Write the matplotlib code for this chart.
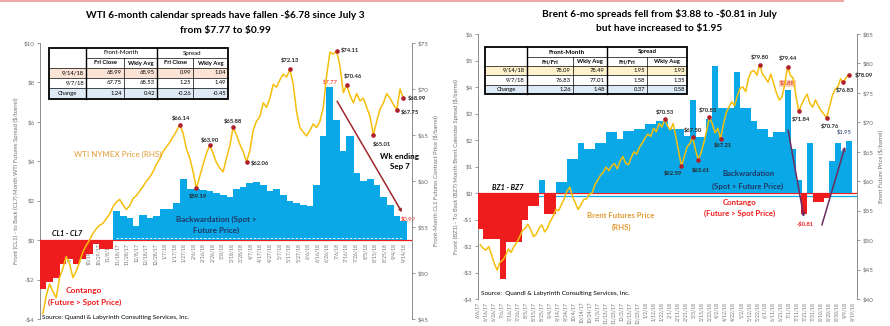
import matplotlib
matplotlib.use("Agg")
import matplotlib.pyplot as plt
from matplotlib.patches import Rectangle
import pandas as pd

plt.rcParams['font.family'] = ['Lato', 'DejaVu Sans']

GOLD = '#F5BE0B'
BLUE = '#0AA8E6'
RED = '#EE1C1C'
NAVY = '#1F3864'
ORANGE = '#E39B35'
GREY = '#6E6E6E'
DARK = '#262626'
DOT = '#B0202A'

# WTI CL1-CL7 spread, weekly (Fridays)
wti_weeks = pd.date_range('2017-09-01', '2018-09-14', freq='7D')
wti_spread = [-2.5, -2.1, -1.9, -1.2, -0.95, -1.2, -0.95, -0.7, -0.2, -0.45,
              -0.45, 1.5, 1.2, 1.1, 0.7, 1.3, 1.1, 1.2, 1.6, 1.6,
              1.9, 3.1, 2.6, 2.6, 2.55, 2.5, 2.4, 2.3, 2.2, 2.6,
              2.7, 2.9, 2.95, 2.8, 2.5, 2.6, 2.3, 2.0, 1.9, 1.8,
              1.75, 2.8, 5.3, 7.77, 6.1, 4.5, 5.3, 3.4, 3.0, 3.1,
              2.8, 2.2, 1.8, 1.25, 0.99]

# WTI front-month price, twice a week
wti_days = pd.date_range('2017-09-01', '2018-09-14', periods=109)
wti_price = [45.6, 47.5, 48.8, 48.0, 47.3, 49.5, 50.5, 51.8, 51.0, 49.5,
             50.2, 51.2, 52.3, 53.0, 53.6, 54.3, 54.8, 55.2, 55.4, 55.9,
             56.4, 57.2, 57.7, 58.0, 57.4, 56.9, 57.3, 58.1, 58.4, 58.9,
             59.4, 60.0, 60.4, 61.0, 61.8, 62.4, 63.2, 63.7, 64.2, 64.8,
             65.4, 66.14, 65.2, 63.5, 62.5, 61.0, 59.19, 60.5, 61.8, 63.0,
             63.90, 63.0, 62.0, 61.4, 61.0, 62.5, 63.8, 65.88, 65.0, 64.0,
             63.2, 62.06, 63.3, 65.5, 66.5, 67.0, 68.5, 68.0, 69.0, 70.5,
             70.2, 71.0, 71.6, 71.3, 72.13, 70.5, 67.5, 65.8, 65.3, 64.9,
             65.5, 66.2, 65.8, 66.5, 68.0, 71.5, 74.0, 73.8, 74.11, 72.5,
             69.6, 70.46, 69.3, 68.5, 69.5, 68.7, 69.0, 68.0, 67.0, 65.01,
             66.5, 67.8, 68.5, 69.5, 69.0, 68.3, 67.75, 70.0, 68.99]
wti_marked = [41, 46, 50, 57, 61, 74, 88, 91, 99, 106, 108]

# Brent BZ1-BZ7 spread, weekly
brent_weeks = pd.date_range('2017-06-09', '2018-09-14', freq='7D')
brent_spread = [-1.36, -1.74, -1.74, -1.74, -3.25, -1.85, -1.85, -1.85, -1.0, -0.5,
                -0.5, 0.5, -0.8, -0.8, 0.4, 0.4, 1.3, 1.3, 1.9, 1.65,
                1.65, 1.9, 1.9, 2.3, 2.3, 2.05, 2.35, 2.35, 2.4, 2.4,
                2.6, 2.6, 2.7, 2.7, 2.4, 2.4, 2.4, 2.15, 3.5, 2.1,
                2.1, 2.8, 4.8, 3.2, 3.2, 3.2, 4.55, 3.2, 3.2, 2.7,
                2.4, 2.4, 2.1, 2.3, 2.3, 3.88, 1.65, 0.5, -0.81, 1.9,
                -0.35, -0.35, -0.2, 1.2, 1.9, 1.58, 1.95]

# Brent front-month price, twice a week
brent_days = pd.date_range('2017-06-09', '2018-09-14', periods=133)
brent_price = [49.2, 48.6, 48.3, 48.9, 47.5, 46.0, 44.9, 46.2, 46.6, 47.3,
               48.5, 47.9, 48.9, 49.6, 50.5, 51.6, 52.0, 52.7, 51.8, 50.6,
               51.0, 52.0, 52.6, 51.4, 52.0, 53.2, 54.0, 55.2, 55.0, 56.0,
               57.0, 58.3, 59.0, 57.4, 56.3, 55.2, 56.0, 56.9, 57.0, 57.8,
               58.0, 59.4, 60.2, 61.0, 61.5, 62.4, 61.8, 62.6, 63.0, 62.1,
               63.4, 64.2, 63.1, 62.8, 64.0, 65.0, 64.6, 65.8, 66.5, 67.4,
               68.0, 67.6, 69.0, 68.4, 69.8, 69.2, 70.53, 69.4, 68.7, 69.8,
               67.5, 65.0, 62.59, 64.2, 65.8, 66.4, 67.50, 65.4, 63.61, 64.8,
               66.5, 68.6, 70.85, 69.8, 68.2, 69.0, 67.21, 69.6, 71.6, 72.6,
               73.5, 72.8, 74.5, 75.8, 76.0, 75.2, 77.5, 78.6, 78.8, 78.0,
               79.80, 78.2, 77.6, 76.8, 78.2, 76.6, 75.0, 73.8, 74.3, 76.5,
               79.44, 78.0, 77.5, 74.5, 71.84, 73.0, 74.0, 74.8, 73.2, 72.6,
               73.8, 72.8, 72.0, 71.4, 70.76, 72.6, 74.5, 75.6, 76.0, 77.4,
               76.83, 77.6, 78.09]
brent_marked = [66, 72, 76, 78, 82, 86, 100, 110, 114, 124, 130, 132]

# summary tables
wti_head = ['Fri Close', 'Wkly Avg', 'Fri Close', 'Wkly Avg']
brent_head = ['Fri/Fri', 'Wkly Aug', 'Fri/Fri', 'Wkly Aug']
table_rows = ['9/14/18', '9/7/18', 'Change']
wti_table = [[68.99, 68.95, 0.99, 1.04],
             [67.75, 68.53, 1.25, 1.49],
             [1.24, 0.42, -0.26, -0.45]]
brent_table = [[78.09, 78.49, 1.95, 1.93],
               [76.83, 77.01, 1.58, 1.35],
               [1.26, 1.48, 0.37, 0.58]]


def dollars(v):
    return ('-' if v < 0 else '') + '\\$' + f'{abs(v):g}'


def price_label(v):
    return ('-' if v < 0 else '') + '\\$' + f'{abs(v):.2f}'


def date_label(d):
    return f'{d.month}/{d.day}/{d:%y}'


fig = plt.figure(figsize=(8.9, 3.26), dpi=100)


def make_panel(rect, xlim, ylim, ylim2, step, step2, ylabel, ylabel2):
    ax = fig.add_axes(rect)
    ax2 = ax.twinx()
    ax.set_xlim(*xlim)
    ax.set_ylim(*ylim)
    ax2.set_ylim(*ylim2)
    yt = range(ylim[0], ylim[1] + 1, step)
    ax.set_yticks(list(yt))
    ax.set_yticklabels([dollars(v) for v in yt])
    yt2 = range(ylim2[0], ylim2[1] + 1, step2)
    ax2.set_yticks(list(yt2))
    ax2.set_yticklabels([dollars(v) for v in yt2])
    for a in (ax, ax2):
        for s in ('top', 'bottom', 'left', 'right'):
            a.spines[s].set_visible(False)
        a.tick_params(axis='y', length=2, width=0.6, color='#8C8C8C',
                      labelsize=4.5, labelcolor=GREY, pad=2)
    ax.spines['left'].set_visible(True)
    ax.spines['left'].set_color('#8C8C8C')
    ax.spines['left'].set_linewidth(0.7)
    ax2.spines['right'].set_visible(True)
    ax2.spines['right'].set_color('#8C8C8C')
    ax2.spines['right'].set_linewidth(0.7)
    ax.set_ylabel(ylabel, fontsize=4.2, color=GREY, labelpad=3)
    ax2.set_ylabel(ylabel2, fontsize=4.2, color=GREY, labelpad=3)
    return ax, ax2


def date_ticks(ax, ticks):
    ax.set_xticks(ticks)
    ax.set_xticklabels([date_label(d) for d in ticks])
    ax.tick_params(axis='x', length=0, pad=2, labelsize=3.5, labelcolor=GREY,
                   labelrotation=90)


def draw_prices(ax2, days, price, marked, offsets):
    ax2.plot(days, price, color=GOLD, lw=1.1, zorder=4)
    for i, (dx, dy) in zip(marked, offsets):
        ax2.plot(days[i], price[i], 'o', ms=2.3, color=DOT, zorder=5)
        ax2.annotate(price_label(price[i]), (days[i], price[i]), xytext=(dx, dy),
                     textcoords='offset points', ha='center', va='center',
                     fontsize=4.2, color=DARK, fontweight='bold', zorder=6)


# ---------------- WTI ----------------
ax, ax2 = make_panel([40 / 890, 7 / 326, 372 / 890, 276 / 326],
                     (pd.Timestamp('2017-08-29'), pd.Timestamp('2018-09-23')),
                     (-4, 10), (45, 75), 2, 5,
                     'Front (CL1) - to Back (CL7) Month WTI Futures Spread ($/barrel)',
                     'Front-Month CL1 Futures Contract Price ($/barrel)')
# date labels hang from the zero line
ax.spines['bottom'].set_position(('data', 0))
ax.spines['bottom'].set_visible(False)
date_ticks(ax, pd.date_range(end='2018-09-14', periods=38, freq='10D'))

ax.axhline(0, color=RED, lw=0.9, zorder=2)
ax.bar(wti_weeks, wti_spread, width=7.4, linewidth=0, zorder=3,
       color=[RED if v < 0 else BLUE for v in wti_spread])
blue_from = next(i for i, v in enumerate(wti_spread) if v > 0)
ax.plot(wti_weeks[blue_from:], [0.12] * len(wti_weeks[blue_from:]),
        color='white', lw=0.6, ls=(0, (3, 2)), zorder=3.1)

peak = wti_spread.index(max(wti_spread))
ax.annotate('', xy=(wti_weeks[-1], wti_spread[-1] + 0.3),
            xytext=(wti_weeks[peak] + pd.Timedelta(days=6), wti_spread[peak] - 0.6),
            arrowprops=dict(arrowstyle='-|>', color='#A0282A', lw=1.1,
                            mutation_scale=4), zorder=6)
ax.annotate(price_label(wti_spread[peak]), (wti_weeks[peak], wti_spread[peak]),
            xytext=(0, 3.6), textcoords='offset points', ha='center', va='center',
            fontsize=4.2, color=RED, zorder=6)
ax.annotate(price_label(wti_spread[-1]), (wti_weeks[-1], wti_spread[-1]),
            xytext=(3.6, 1.4), textcoords='offset points', ha='center', va='center',
            fontsize=4.2, color=RED, zorder=6)

draw_prices(ax2, wti_days, wti_price, wti_marked,
            [(0.7, 4.3), (1.4, -5.8), (0, 3.6), (0, 4.3), (10, -0.7), (0, 6.5),
             (9.4, 0.7), (4.3, 5.8), (5.8, -6.5), (9.4, -2.2), (10, 0)])

# ---------------- Brent ----------------
bx, bx2 = make_panel([478 / 890, 27 / 326, 379 / 890, 265 / 326],
                     (pd.Timestamp('2017-06-06'), pd.Timestamp('2018-09-24')),
                     (-4, 6), (40, 85), 1, 5,
                     'Front (BZ1) - To Back (BZ7) Month Brent Calendar Spread ($/barrel)',
                     'Brent Future Price ($/barrel)')
date_ticks(bx, pd.date_range('2017-06-06', '2018-09-24', freq='10D'))
bx.axhline(-0.1, color=BLUE, lw=0.9, zorder=1.5)
bx.axhline(0, color=RED, lw=0.9, zorder=2)
bx.bar(brent_weeks, brent_spread, width=7.4, linewidth=0, zorder=3,
       color=[RED if v < 0 else BLUE for v in brent_spread])

hi = brent_spread.index(3.88)
lo = brent_spread.index(min(brent_spread[hi:]))
arrow = dict(arrowstyle='-|>', color='#6B2C5F', lw=1.1, mutation_scale=4)
bx.annotate('', xy=(brent_weeks[lo], brent_spread[lo] - 0.2),
            xytext=(brent_weeks[hi], brent_spread[hi] - 1.4), arrowprops=arrow, zorder=6)
bx.annotate('', xy=(brent_weeks[-1] - pd.Timedelta(days=4), brent_spread[-1] - 0.1),
            xytext=(brent_weeks[lo + 3], brent_spread[lo] - 0.5), arrowprops=arrow, zorder=6)
bx.annotate(price_label(brent_spread[hi]), (brent_weeks[hi], brent_spread[hi]),
            xytext=(0, 5), textcoords='offset points', ha='center', va='center',
            fontsize=4.2, color=RED, zorder=6,
            bbox=dict(boxstyle='square,pad=0.15', fc='#F9D3B8', ec='none'))
bx.annotate(price_label(brent_spread[lo]), (brent_weeks[lo], brent_spread[lo]),
            xytext=(0.7, -7), textcoords='offset points', ha='center', va='center',
            fontsize=4.2, color=RED, fontweight='bold', zorder=6)
bx.annotate(price_label(brent_spread[-1]), (brent_weeks[-1], brent_spread[-1]),
            xytext=(-3.6, 7), textcoords='offset points', ha='center', va='center',
            fontsize=4.2, color=NAVY, zorder=6)

draw_prices(bx2, brent_days, brent_price, brent_marked,
            [(0, 5), (-5.8, -5), (0, 5), (2.2, -7.2), (-1.4, 5), (1.4, -5),
             (0, 5), (0, 5.8), (1.4, -5.8), (2.2, -5.8), (1.4, -5.8), (10.8, -0.7)])

# ---------------- text and tables (pixel coordinates) ----------------
ov = fig.add_axes([0, 0, 1, 1])
ov.set_xlim(0, 890)
ov.set_ylim(326, 0)
ov.axis('off')
ov.patch.set_visible(False)

ov.plot([0, 843], [0.8, 0.8], color='#F2A5A5', lw=1.4)

title_kw = dict(ha='center', va='center', fontsize=7.3, fontweight='bold', color='black')
ov.text(225, 15, 'WTI 6-month calendar spreads have fallen -\\$6.78 since July 3', **title_kw)
ov.text(225, 30, 'from \\$7.77 to \\$0.99', **title_kw)
ov.text(659, 14, 'Brent 6-mo spreads fell from \\$3.88 to -\\$0.81 in July', **title_kw)
ov.text(659, 28, 'but have increased to \\$1.95', **title_kw)

ov.text(118, 154, 'WTI NYMEX Price (RHS)', ha='center', va='center', fontsize=5.8, color=ORANGE)
ov.text(216, 219, 'Backwardation (Spot >', ha='center', va='center', fontsize=5.8,
        fontweight='bold', color=NAVY)
ov.text(216, 230, 'Future Price)', ha='center', va='center', fontsize=5.8,
        fontweight='bold', color=NAVY)
ov.text(67, 234, 'CL1 - CL7', ha='center', va='center', fontsize=5.2,
        fontweight='bold', style='italic', color='black')
ov.text(84, 291, 'Contango', ha='center', va='center', fontsize=6, fontweight='bold', color=RED)
ov.text(85, 302, '(Future > Spot Price)', ha='center', va='center', fontsize=5.8,
        fontweight='bold', color=RED)
ov.text(400, 157, 'Wk ending', ha='center', va='center', fontsize=5.8, fontweight='bold')
ov.text(400, 166, 'Sep 7', ha='center', va='center', fontsize=5.8, fontweight='bold')
ov.text(42, 317, 'Source: Quandl & Labyrinth Consulting Services, Inc.',
        ha='left', va='center', fontsize=4.6)

ov.text(748, 174, 'Backwardation', ha='center', va='center', fontsize=5.6,
        fontweight='bold', color=NAVY)
ov.text(748, 186, '(Spot > Future Price)', ha='center', va='center', fontsize=5.6,
        fontweight='bold', color=NAVY)
ov.text(740, 202, 'Contango', ha='center', va='center', fontsize=5.6,
        fontweight='bold', color=RED)
ov.text(740, 213, '(Future > Spot Price)', ha='center', va='center', fontsize=5.6,
        fontweight='bold', color=RED)
ov.text(621, 216, 'Brent Futures Price', ha='center', va='center', fontsize=5.6,
        fontweight='bold', color=ORANGE)
ov.text(621, 227, '(RHS)', ha='center', va='center', fontsize=5.6,
        fontweight='bold', color=ORANGE)
ov.text(508, 187, 'BZ1 - BZ7', ha='center', va='center', fontsize=5.2,
        fontweight='bold', style='italic', color='black')
ov.text(481, 294, 'Source:  Quandl & Labyrinth Consulting Services, Inc.',
        ha='left', va='center', fontsize=4.6)


def draw_table(xs, ys, head, values, fills, top_bold):
    x0, x1, y0, y1 = xs[0], xs[-1], ys[0], ys[-1]
    ov.add_patch(Rectangle((x0, y0), x1 - x0, y1 - y0, fc='white', ec='none', zorder=5))
    for r, fill in enumerate(fills):
        if fill:
            ov.add_patch(Rectangle((x0, ys[r + 2]), x1 - x0, ys[r + 3] - ys[r + 2],
                                   fc=fill, ec='none', zorder=5))
    for i in range(1, len(ys) - 1):
        xa = xs[1] if i == 1 else x0
        ov.plot([xa, x1], [ys[i], ys[i]], color='black', lw=0.5, zorder=6)
    for j in range(1, len(xs) - 1):
        ya = ys[1] if j in (2, 4) else y0
        ov.plot([xs[j], xs[j]], [ya, y1], color='black',
                lw=0.5 if j in (2, 4) else 1.0, zorder=6)
    ov.add_patch(Rectangle((x0, y0), x1 - x0, y1 - y0, fc='none', ec='black',
                           lw=1.3, zorder=7))
    tw = 'bold' if top_bold else 'normal'
    ym = (ys[0] + ys[1]) / 2
    ov.text((xs[1] + xs[3]) / 2, ym, 'Front-Month', ha='center', va='center',
            fontsize=4.4, fontweight=tw, zorder=8)
    ov.text((xs[3] + xs[5]) / 2, ym, 'Spread', ha='center', va='center',
            fontsize=4.4, fontweight=tw, zorder=8)
    for c, h in enumerate(head):
        ov.text((xs[c + 1] + xs[c + 2]) / 2, (ys[1] + ys[2]) / 2, h, ha='center',
                va='center', fontsize=4.2, fontweight='bold', zorder=8)
    for r, name in enumerate(table_rows):
        yc = (ys[r + 2] + ys[r + 3]) / 2
        if name == 'Change':
            ov.text((xs[0] + xs[1]) / 2, yc, name, ha='center', va='center',
                    fontsize=4.2, zorder=8)
        else:
            ov.text(xs[1] - 2, yc, name, ha='right', va='center', fontsize=4.2, zorder=8)
        for c, v in enumerate(values[r]):
            ov.text(xs[c + 2] - 2, yc, f'{v:.2f}', ha='right', va='center',
                    fontsize=4.2, zorder=8)


draw_table([49, 86, 124, 157, 193, 228], [48, 58, 68, 78, 88, 99], wti_head, wti_table,
           ['#FBE4D5', None, '#DEEAF6'], False)
draw_table([485, 527, 573, 607, 647, 687], [47, 57, 66, 75, 85, 94], brent_head, brent_table,
           ['#FFF2CC', None, '#DDEBF7'], True)

fig.savefig('out.png', dpi=100)
